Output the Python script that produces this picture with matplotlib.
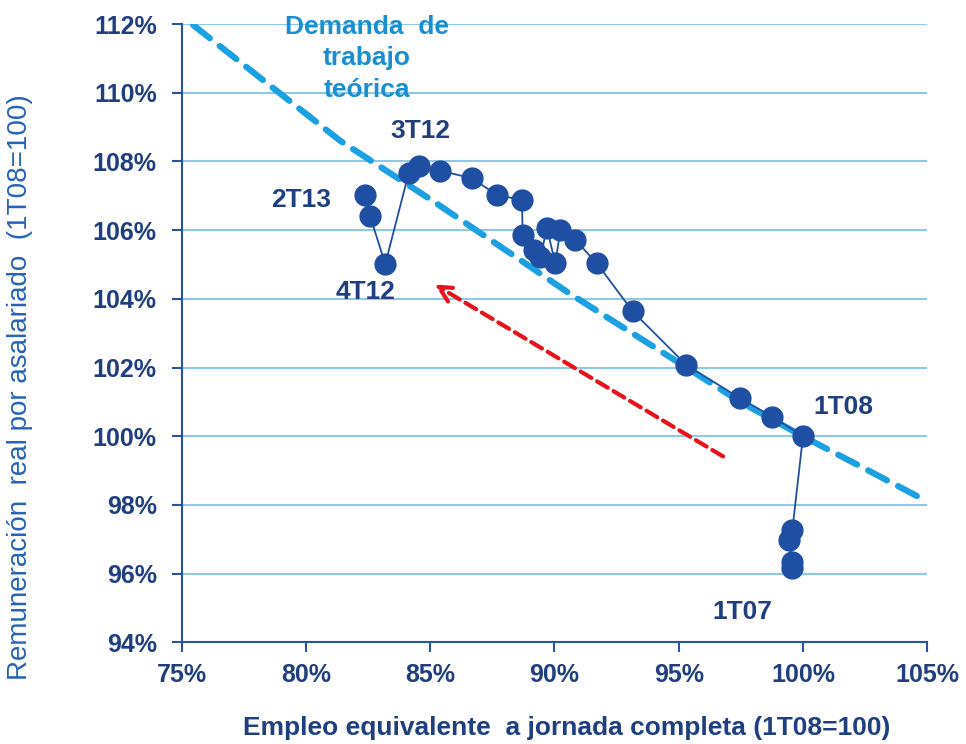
import matplotlib
matplotlib.use('Agg')
import matplotlib.pyplot as plt
from matplotlib.ticker import FuncFormatter

# quarterly series, 1T07 .. 2T13 (1T08 = 100)
trimestres = ['1T07', '2T07', '3T07', '4T07', '1T08', '2T08', '3T08', '4T08',
              '1T09', '2T09', '3T09', '4T09', '1T10', '2T10', '3T10', '4T10',
              '1T11', '2T11', '3T11', '4T11', '1T12', '2T12', '3T12', '4T12',
              '1T13', '2T13']
empleo = [99.57, 99.57, 99.43, 99.57, 100.0, 98.76, 97.48, 95.31,
          93.14, 91.71, 90.84, 90.24, 90.03, 89.70, 89.43, 89.16,
          88.72, 88.69, 87.69, 86.68, 85.40, 84.53, 84.13, 83.19,
          82.58, 82.38]
remuneracion = [96.16, 96.35, 96.98, 97.27, 100.0, 100.57, 101.10, 102.07,
                103.64, 105.03, 105.71, 106.00, 105.03, 106.05, 105.23, 105.42,
                105.86, 106.88, 107.02, 107.51, 107.73, 107.87, 107.65, 105.01,
                106.41, 107.02]

# theoretical labour demand curve
demanda_x = [75.46, 81.38, 85.0, 88.89, 90.51, 95.31, 97.48, 99.98, 102.24, 105.0]
demanda_y = [111.97, 108.6, 106.9, 105.0, 104.2, 102.0, 101.0, 100.0, 99.15, 98.1]

# red trend arrow (start, end)
flecha_ini = (96.88, 99.37)
flecha_fin = (85.08, 104.46)

etiquetas = {'3T12': (84.6, 108.9), '2T13': (79.8, 106.88), '4T12': (82.38, 104.2),
             '1T08': (101.63, 100.85), '1T07': (97.57, 94.88)}

x_ticks = [75, 80, 85, 90, 95, 100, 105]
y_ticks = [94, 96, 98, 100, 102, 104, 106, 108, 110, 112]

navy = '#1f3f80'
point_color = '#1f4fa3'
light_blue = '#1ba1e2'
grid_color = '#8ecae8'

plt.rcParams['font.family'] = ['Liberation Sans', 'DejaVu Sans']

fig = plt.figure(figsize=(9.66, 7.44), dpi=100)
ax = fig.add_axes([0.1881, 0.1367, 0.7718, 0.8310])

for y in y_ticks[1:]:
    ax.axhline(y, color=grid_color, lw=1.5, zorder=0)

ax.plot(demanda_x, demanda_y, color=light_blue, lw=4.5, dashes=(3.4, 2.0),
        solid_capstyle='round', dash_capstyle='round', zorder=2)

ax.plot(empleo, remuneracion, color=point_color, lw=1.3, marker='o', ms=15,
        mfc=point_color, mec=point_color, zorder=3)

ax.annotate('', xy=flecha_fin, xytext=flecha_ini,
            arrowprops=dict(arrowstyle='->', color='#e8121a', lw=3,
                            linestyle=(0, (3, 1.6)), mutation_scale=28),
            zorder=4)

for txt, (x, y) in etiquetas.items():
    ax.text(x, y, txt, color=navy, fontsize=19, fontweight='bold',
            ha='center', va='center', zorder=5)

ax.text(82.46, 111.0, 'Demanda  de\ntrabajo\nteórica', color='#1a8fd0',
        fontsize=19, fontweight='bold', ha='center', va='center',
        linespacing=1.38, zorder=5)

ax.set_xlim(75, 105)
ax.set_ylim(94, 112)
ax.set_xticks(x_ticks)
ax.set_yticks(y_ticks)
pct = FuncFormatter(lambda v, p: '%d%%' % v)
ax.xaxis.set_major_formatter(pct)
ax.yaxis.set_major_formatter(pct)
for lab in ax.get_xticklabels() + ax.get_yticklabels():
    lab.set_fontweight('bold')
ax.tick_params(axis='both', colors='#2a52a0', labelcolor=navy, labelsize=18,
               length=7, width=1.5, direction='out')
ax.tick_params(axis='x', pad=8)
ax.tick_params(axis='y', pad=11)

for side in ['top', 'right']:
    ax.spines[side].set_visible(False)
for side in ['left', 'bottom']:
    ax.spines[side].set_color('#2a52a0')
    ax.spines[side].set_linewidth(1.5)

fig.text(0.0207, 0.48, 'Remuneración  real por asalariado  (1T08=100)',
         rotation=90, color='#2463b8', fontsize=20, ha='center', va='center')
fig.text(0.587, 0.0215, 'Empleo equivalente  a jornada completa (1T08=100)',
         color=navy, fontsize=19, fontweight='bold', ha='center', va='center')

fig.savefig('out.png', dpi=100)
